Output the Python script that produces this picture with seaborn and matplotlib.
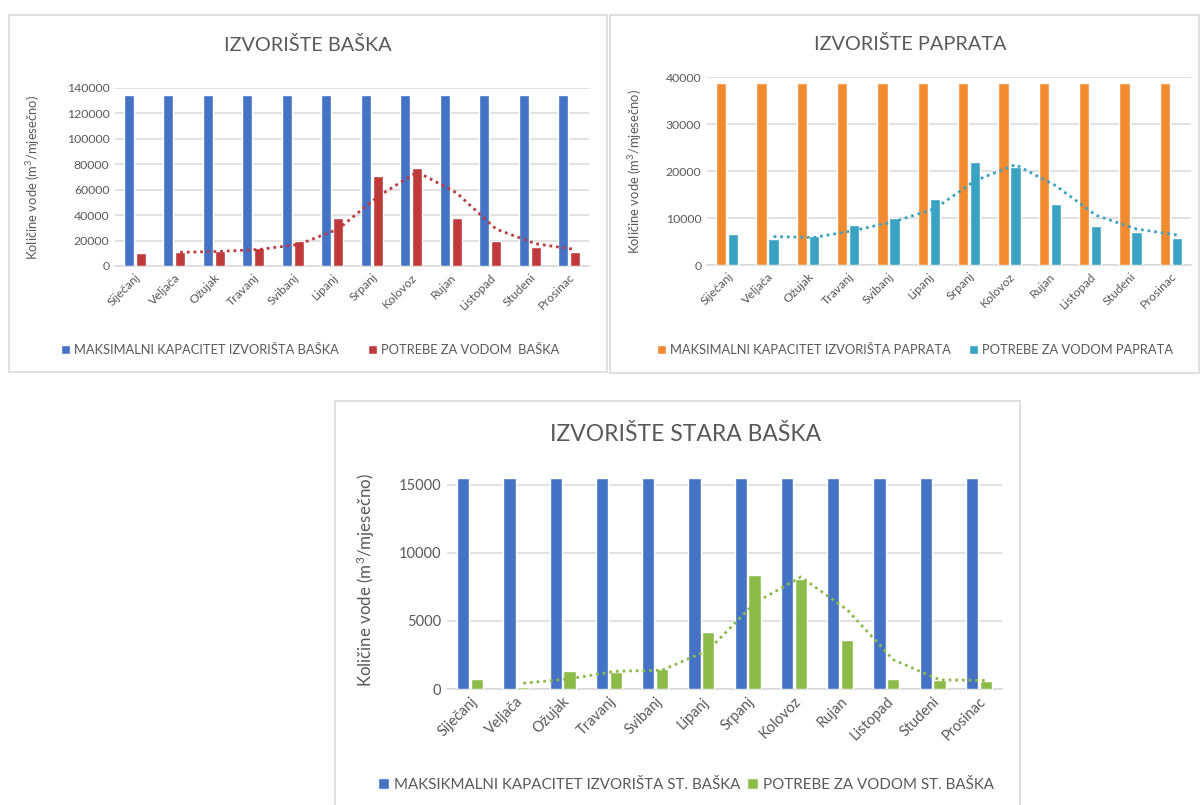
import numpy as np
import pandas as pd
import matplotlib
matplotlib.use("Agg")
import matplotlib.pyplot as plt
from matplotlib.patches import Patch, Rectangle
import seaborn as sns

# Month names (Croatian)
months = ["Siječanj", "Veljača", "Ožujak", "Travanj", "Svibanj", "Lipanj",
          "Srpanj", "Kolovoz", "Rujan", "Listopad", "Studeni", "Prosinac"]

# Izvorište Baška
baska_capacity = [134500] * 12
baska_demand = [10500, 11000, 12000, 14000, 20000, 38000,
                71000, 77000, 38000, 20000, 15000, 11000]

# Izvorište Paprata
paprata_capacity = [38800] * 12
paprata_demand = [6600, 5500, 6200, 8500, 10000, 14000,
                  21900, 20800, 12900, 8200, 7100, 5700]

# Izvorište Stara Baška
stara_capacity = [15500] * 12
stara_demand = [700, 150, 1350, 1250, 1500, 4200,
                8400, 8050, 3600, 700, 650, 600]

sns.set_theme(style="white")
plt.rcParams["font.family"] = ["Lato", "DejaVu Sans"]
plt.rcParams["mathtext.fontset"] = "custom"
plt.rcParams["mathtext.rm"] = "Lato"
plt.rcParams["mathtext.it"] = "Lato:italic"

TEXT = "#595959"
GRID = "#D9D9D9"
YLABEL = "Količine vode (m$^{3}$/mjesečno)"

fig = plt.figure(figsize=(12, 8.05), dpi=100)
W, H = 1200, 805


def px_axes(x0, x1, y_top, y_bottom):
    return fig.add_axes([x0 / W, 1 - y_bottom / H, (x1 - x0) / W, (y_bottom - y_top) / H])


def panel_box(x0, x1, y0, y1):
    fig.patches.append(Rectangle((x0 / W, 1 - y1 / H), (x1 - x0) / W, (y1 - y0) / H,
                                 transform=fig.transFigure, fill=False,
                                 edgecolor=GRID, linewidth=1.2, zorder=0))


def draw_panel(ax, title, capacity, demand, cap_label, dem_label, colors,
               ylim, yticks, fs, title_xy, legend_xy, ylabel_x, bar_gap, colspace):
    df = pd.DataFrame({
        "mjesec": months * 2,
        "vrijednost": list(capacity) + list(demand),
        "serija": [cap_label] * 12 + [dem_label] * 12,
    })
    sns.barplot(data=df, x="mjesec", y="vrijednost", hue="serija",
                palette=colors, width=0.6, gap=bar_gap, ax=ax,
                legend=False, saturation=1, errorbar=None, zorder=3)

    # two-period moving average trendline of the demand series
    ma = pd.Series(demand).rolling(2).mean().to_numpy()
    xs = np.arange(12) + 0.15
    ax.plot(xs[1:], ma[1:], linestyle=(0, (1, 1.4)), color=colors[1],
            linewidth=2.0, zorder=4)

    ax.set_ylim(*ylim)
    ax.set_xlim(-0.5, 11.5)
    ax.set_yticks(yticks)
    ax.set_yticklabels([f"{v:d}" for v in yticks], fontsize=fs["tick"], color=TEXT)
    ax.set_xticks(range(12))
    ax.set_xticklabels(months, rotation=45, ha="right", rotation_mode="anchor",
                       fontsize=fs["tick"], color=TEXT)
    ax.tick_params(axis="both", length=0, pad=4)
    ax.yaxis.grid(True, color=GRID, linewidth=1.1, zorder=0)
    ax.set_axisbelow(True)
    for s in ["top", "right", "left"]:
        ax.spines[s].set_visible(False)
    ax.spines["bottom"].set_color(GRID)
    ax.spines["bottom"].set_linewidth(1.1)
    ax.set_xlabel("")
    ax.set_ylabel("")
    pos = ax.get_position()
    fig.text(ylabel_x / W, (pos.y0 + pos.y1) / 2, YLABEL, rotation=90,
             ha="center", va="center", fontsize=fs["ylabel"], color=TEXT)
    fig.text(title_xy[0] / W, 1 - title_xy[1] / H, title, ha="center", va="center",
             fontsize=fs["title"], color=TEXT)
    handles = [Patch(facecolor=colors[0], label=cap_label),
               Patch(facecolor=colors[1], label=dem_label)]
    leg = fig.legend(handles=handles, loc="center",
                     bbox_to_anchor=(legend_xy[0] / W, 1 - legend_xy[1] / H),
                     ncol=2, frameon=False, fontsize=fs["legend"],
                     handlelength=0.7, handleheight=0.7, handletextpad=0.3,
                     columnspacing=colspace)
    for t in leg.get_texts():
        t.set_color(TEXT)


# panel frames
panel_box(9, 607, 15, 372)
panel_box(610, 1199, 15, 373)
panel_box(335, 1020, 401, 810)

small = {"tick": 8.8, "ylabel": 9.4, "title": 14.3, "legend": 9.3}
large = {"tick": 10.5, "ylabel": 12.2, "title": 16.5, "legend": 10.9}

ax1 = px_axes(115, 589, 88, 266)
draw_panel(ax1, "IZVORIŠTE BAŠKA", baska_capacity, baska_demand,
           "MAKSIMALNI KAPACITET IZVORIŠTA BAŠKA", "POTREBE ZA VODOM  BAŠKA",
           ["#4472C4", "#C0393B"], (0, 140000), list(range(0, 140001, 20000)),
           small, (308, 45), (310, 350), 33, 0.15, 2.3)

ax2 = px_axes(707, 1191, 77, 265)
draw_panel(ax2, "IZVORIŠTE PAPRATA", paprata_capacity, paprata_demand,
           "MAKSIMALNI KAPACITET IZVORIŠTA PAPRATA", "POTREBE ZA VODOM PAPRATA",
           ["#F28B30", "#3AA3C4"], (0, 40000), list(range(0, 40001, 10000)),
           small, (910, 44), (915, 350), 635, 0.15, 1.4)

ax3 = px_axes(447, 1002, 471, 689)
draw_panel(ax3, "IZVORIŠTE STARA BAŠKA", stara_capacity, stara_demand,
           "MAKSIKMALNI KAPACITET IZVORIŠTA ST. BAŠKA", "POTREBE ZA VODOM ST. BAŠKA",
           ["#4472C4", "#8DBB4A"], (0, 16000), list(range(0, 15001, 5000)),
           large, (686, 434), (686, 785), 366, 0.12, 0.5)

fig.savefig("out.png", dpi=100, facecolor="white")
